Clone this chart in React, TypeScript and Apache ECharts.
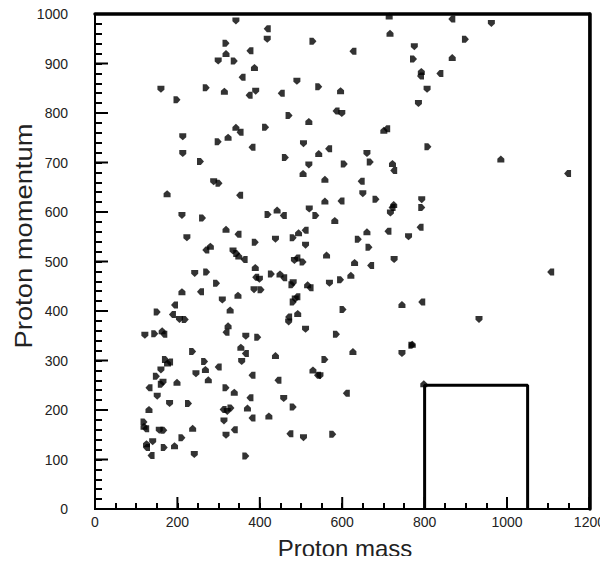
import React, { useEffect, useRef } from "react";
import * as echarts from "echarts";

const protonMass = [
  342, 318, 318, 376, 299, 338, 387, 357, 160, 270, 314, 374, 390, 199, 342, 352, 213, 299, 323, 381,
  213, 256, 714, 418, 418, 529, 716, 626, 775, 773, 792, 790, 490, 543, 596, 452, 785, 471, 519, 585,
  599, 414, 701, 708, 506, 462, 543, 567, 660, 668, 722, 725, 519, 605, 505, 866, 962, 899, 867, 837,
  806, 808, 985, 1147, 288, 301, 175, 351, 211, 261, 318, 347, 223, 389, 280, 269, 335, 344, 349, 362,
  242, 271, 389, 390, 399, 295, 211, 256, 386, 403, 347, 193, 309, 151, 328, 188, 205, 219, 323, 318,
  121, 145, 163, 167, 366, 395, 558, 646, 650, 682, 558, 597, 793, 793, 725, 721, 717, 420, 442, 457,
  520, 536, 582, 789, 438, 481, 494, 510, 511, 639, 660, 711, 761, 665, 562, 490, 484, 505, 630, 669,
  726, 428, 449, 458, 481, 478, 516, 522, 569, 596, 621, 490, 486, 481, 492, 470, 470, 602, 745, 793,
  511, 586, 770, 1106, 932, 237, 354, 365, 356, 171, 176, 181, 160, 266, 268, 299, 245, 149, 275, 381,
  165, 161, 199, 131, 151, 318, 338, 376, 181, 227, 131, 311, 321, 330, 370, 381, 313, 119, 119, 123,
  156, 167, 237, 338, 318, 211, 125, 125, 140, 168, 193, 136, 241, 366, 438, 444, 458, 481, 422, 473,
  506, 577, 529, 540, 546, 558, 626, 610, 745, 769, 798,
];

const protonMomentum = [
  986, 941, 920, 926, 905, 905, 892, 872, 848, 851, 844, 836, 844, 827, 771, 761, 752, 742, 751, 731,
  718, 702, 996, 970, 949, 945, 961, 925, 934, 909, 884, 875, 864, 853, 845, 840, 819, 795, 783, 804,
  799, 771, 765, 768, 738, 710, 718, 728, 718, 701, 698, 684, 695, 697, 678, 990, 981, 949, 912, 880,
  848, 732, 707, 678, 661, 658, 637, 634, 593, 588, 565, 555, 548, 539, 531, 523, 521, 516, 511, 504,
  476, 479, 488, 468, 464, 456, 439, 439, 443, 443, 432, 412, 422, 398, 402, 393, 383, 383, 370, 357,
  351, 354, 360, 353, 349, 347, 666, 662, 637, 626, 622, 622, 625, 609, 615, 609, 598, 595, 604, 593,
  606, 593, 583, 569, 545, 548, 558, 563, 533, 545, 560, 561, 550, 529, 513, 507, 502, 499, 498, 492,
  504, 475, 475, 467, 457, 453, 453, 447, 456, 463, 472, 429, 424, 418, 395, 388, 378, 403, 413, 418,
  363, 353, 333, 479, 383, 318, 327, 314, 298, 302, 295, 297, 281, 298, 282, 287, 273, 268, 261, 270,
  256, 252, 256, 245, 228, 245, 236, 225, 213, 213, 201, 201, 197, 204, 204, 184, 178, 176, 167, 162,
  159, 159, 163, 160, 149, 144, 132, 124, 136, 124, 128, 108, 110, 107, 310, 260, 223, 206, 188, 152,
  144, 151, 281, 270, 269, 302, 318, 234, 314, 331, 253,
];

// Outline of the box drawn in the lower right (mass, momentum corners)
const boxMass = [800, 800, 1050, 1050];
const boxMomentum = [0, 250, 250, 0];

// Labelled (major) tick values
const xTickLabels = [0, 200, 400, 600, 800, 1000, 1200];
const yTickLabels = [0, 100, 200, 300, 400, 500, 600, 700, 800, 900, 1000];

const xRange = { min: 0, max: 1200, major: 200, minor: 50 };
const yRange = { min: 0, max: 1000, major: 100, minor: 20 };

const FONT = "'Liberation Sans', Arial, Helvetica, sans-serif";

export default function App() {
  const ref = useRef<HTMLDivElement>(null);

  useEffect(() => {
    if (!ref.current) return;
    const chart = echarts.init(ref.current, null, { renderer: "svg" });
    const points = protonMass.map((m, i) => [m, protonMomentum[i]]);
    const box = boxMass.map((m, i) => [m, boxMomentum[i]]);
    const rotations = [0, 90, 180, 270];
    const plain = (v: number) => String(v);

    const ticks = (range: any, interval: number, length: number, position: string) => ({
      type: "value",
      position,
      min: range.min,
      max: range.max,
      interval,
      splitLine: { show: false },
      axisLine: { show: false },
      axisTick: { show: true, inside: true, length, lineStyle: { color: "#000", width: 2 } },
      axisLabel: { show: false },
    });
    const labels = (range: any, position: string, margin: number) => ({
      type: "value",
      position,
      min: range.min,
      max: range.max,
      interval: range.major,
      splitLine: { show: false },
      axisLine: { show: false },
      axisTick: { show: false },
      axisLabel: { color: "#222", fontFamily: FONT, fontSize: 14, margin, formatter: plain },
    });
    const frame = (range: any, position: string) => ({
      type: "value",
      position,
      min: range.min,
      max: range.max,
      splitLine: { show: false },
      axisLine: { show: true, onZero: false, lineStyle: { color: "#000", width: 3.5 } },
      axisTick: { show: false },
      axisLabel: { show: false },
    });

    const titles = [
      {
        type: "text",
        x: 345,
        y: 548,
        style: {
          text: "Proton mass",
          fill: "#222",
          font: `24px ${FONT}`,
          textAlign: "center",
          textVerticalAlign: "middle",
        },
      },
      {
        type: "text",
        x: 24,
        y: 236,
        rotation: Math.PI / 2,
        scaleX: 1.14,
        style: {
          text: "Proton momentum",
          fill: "#222",
          font: `24px ${FONT}`,
          textAlign: "center",
          textVerticalAlign: "middle",
        },
      },
    ];

    chart.setOption({
      animation: false,
      backgroundColor: "#ffffff",
      grid: {
        left: 95,
        right: 12,
        top: 14,
        bottom: 55,
        containLabel: false,
        show: true,
        borderColor: "#000",
        borderWidth: 2,
        backgroundColor: "transparent",
      },
      xAxis: [
        labels(xRange, "bottom", 6),
        ticks(xRange, xRange.minor, 6, "bottom"),
        frame(xRange, "top"),
      ],
      yAxis: [
        labels(yRange, "left", 27),
        ticks(yRange, yRange.minor, 7, "left"),
        frame(yRange, "right"),
      ],
      graphic: titles,
      series: [
        {
          type: "scatter",
          data: points,
          symbol: "path://M0 0H8V5L4 9L0 5Z",
          symbolSize: 7,
          symbolRotate: (_v: any, p: any) => rotations[p.dataIndex % 4],
          itemStyle: { color: "#000" },
          silent: true,
        },
        {
          type: "line",
          data: box,
          showSymbol: false,
          symbol: "none",
          lineStyle: { color: "#000", width: 3 },
          silent: true,
        },
      ],
    });

    // Major (labelled) ticks: longer inside ticks, placed with the chart's own scales
    const majorTicks: any[] = [];
    xTickLabels.forEach((v) => {
      const p = chart.convertToPixel({ gridIndex: 0 }, [v, yRange.min]) as number[];
      if (p) {
        majorTicks.push({
          type: "line",
          z: 100,
          silent: true,
          shape: { x1: p[0], y1: p[1], x2: p[0], y2: p[1] - 12 },
          style: { stroke: "#000", lineWidth: 2 },
        });
      }
    });
    yTickLabels.forEach((v) => {
      const p = chart.convertToPixel({ gridIndex: 0 }, [xRange.min, v]) as number[];
      if (p) {
        majorTicks.push({
          type: "line",
          z: 100,
          silent: true,
          shape: { x1: p[0], y1: p[1], x2: p[0] + 13, y2: p[1] },
          style: { stroke: "#000", lineWidth: 2 },
        });
      }
    });
    chart.setOption({ graphic: [...titles, ...majorTicks] });

    return () => chart.dispose();
  }, []);

  return <div ref={ref} style={{ width: 608, height: 564, margin: -8 }} />;
}
